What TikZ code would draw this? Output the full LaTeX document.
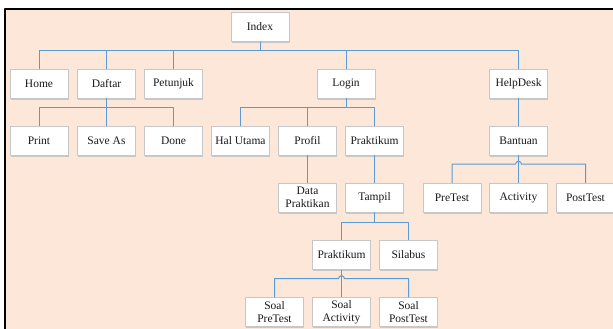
\documentclass[tikz,border=0pt]{standalone}
\usepackage{fontspec}
\setmainfont{Liberation Serif}
\usetikzlibrary{shadows,calc}
\definecolor{peach}{HTML}{FCE7D9}
\definecolor{linkblue}{HTML}{5B9BD5}
\tikzset{
  box/.style={draw=black!22, fill=white, minimum width=58pt, minimum height=29pt,
    inner sep=1pt, align=center, text=black!90,
    drop shadow={shadow xshift=0.8pt, shadow yshift=-1.6pt, fill=black!22, opacity=1}},
  conn/.style={draw=linkblue, line width=1pt}
}
\begin{document}
\begin{tikzpicture}[x=1pt, y=-1pt, font=\fontsize{11.5}{13}\selectfont, line join=round]
  \useasboundingbox (0,0) rectangle (613,329);
  \fill[peach] (5,9) rectangle (613,329);
  \draw[line width=2pt] (5,329) -- (5,9) -- (613,9);

  % level 0 and 1
  \node[box] (index) at (260,27) {Index};
  \node[box] (home) at (39,83.5) {Home};
  \node[box] (daftar) at (106.5,83.5) {Daftar};
  \node[box] (petunjuk) at (173.5,83.5) {Petunjuk};
  \node[box] (login) at (346,83.5) {Login};
  \node[box] (helpdesk) at (518.5,83.5) {HelpDesk};

  % level 2
  \node[box] (print) at (39,140.5) {Print};
  \node[box] (saveas) at (106.5,140.5) {Save As};
  \node[box] (done) at (173.5,140.5) {Done};
  \node[box] (halutama) at (240.5,140.5) {Hal Utama};
  \node[box] (profil) at (307.5,140.5) {Profil};
  \node[box] (praktikum) at (374.5,140.5) {Praktikum};
  \node[box] (bantuan) at (518.5,140.5) {Bantuan};

  % level 3
  \node[box] (datapraktikan) at (307.5,197.5) {Data\\Praktikan};
  \node[box] (tampil) at (374.5,197.5) {Tampil};
  \node[box] (pretest) at (452,197.5) {PreTest};
  \node[box] (activity) at (518.5,197.5) {Activity};
  \node[box] (posttest) at (585.5,197.5) {PostTest};

  % level 4 and 5
  \node[box] (praktikumb) at (341.5,255) {Praktikum};
  \node[box] (silabus) at (408.5,255) {Silabus};
  \node[box] (soalpre) at (274.5,312) {Soal\\PreTest};
  \node[box] (soalact) at (341.5,312) {Soal\\Activity};
  \node[box] (soalpost) at (408.5,312) {Soal\\PostTest};

  % connectors
  \foreach \c in {home,daftar,petunjuk,login,helpdesk}
    \draw[conn] (index.south) -- ++(0,9) -| (\c.north);
  \foreach \c in {print,saveas,done}
    \draw[conn] (daftar.south) -- ++(0,9) -| (\c.north);
  \foreach \c in {halutama,profil,praktikum}
    \draw[conn] (login.south) -- ++(0,9) -| (\c.north);
  \foreach \c in {praktikumb,silabus}
    \draw[conn] (tampil.south) -- ++(0,10) -| (\c.north);
  \draw[conn] (helpdesk.south) -- (bantuan.north);
  \draw[conn] (profil.south) -- (datapraktikan.north);
  \draw[conn] (praktikum.south) -- (tampil.north);

  % buses with a hop
  \draw[conn] (bantuan.south) -- (activity.north);
  \draw[conn] (pretest.north) |- ($(bantuan.south)+(-3,9)$)
    arc[start angle=180, end angle=0, radius=3pt] -| (posttest.north);
  \draw[conn] (praktikumb.south) -- (soalact.north);
  \draw[conn] (soalpre.north) |- ($(praktikumb.south)+(-3,9)$)
    arc[start angle=180, end angle=0, radius=3pt] -| (soalpost.north);
\end{tikzpicture}
\end{document}
